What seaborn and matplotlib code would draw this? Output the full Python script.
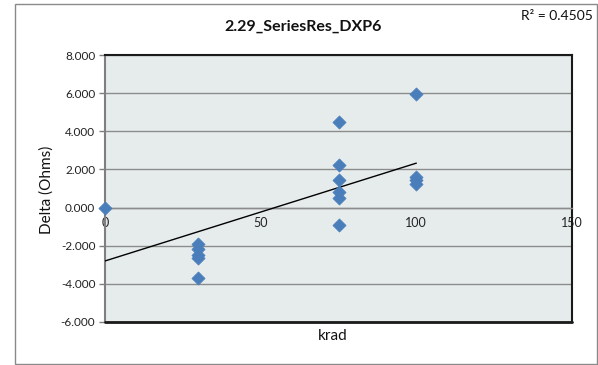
import matplotlib
matplotlib.use("Agg")
import matplotlib.pyplot as plt
import seaborn as sns
import pandas as pd
from matplotlib.patches import Rectangle
from matplotlib.ticker import FuncFormatter

# Data
krad = [0, 30, 30, 30, 30, 30, 75, 75, 75, 75, 75, 75, 100, 100, 100, 100]
delta = [0.00, -1.93, -2.18, -2.49, -2.65, -3.67,
         4.47, 2.21, 1.43, 0.82, 0.48, -0.92,
         5.95, 1.62, 1.45, 1.26]
trend_x = [0, 100]
trend_y = [-2.80, 2.33]
y_ticks = [-6, -4, -2, 0, 2, 4, 6, 8]
x_ticks = [0, 50, 100, 150]
title = "2.29_SeriesRes_DXP6"
r2_text = "R² = 0.4505"

sns.set_theme(style="white")
plt.rcParams["font.family"] = ["Lato", "DejaVu Sans"]
plt.rcParams["axes.unicode_minus"] = False

W, H = 598, 365
fig = plt.figure(figsize=(W / 100, H / 100), dpi=100)
ax = fig.add_axes([105 / W, 1 - 322 / H, (572 - 105) / W, (322 - 55) / H])

# outer chart border
fig.patches.append(Rectangle((15 / W, 1 - 364 / H), (597 - 15) / W, (364 - 4) / H,
                             transform=fig.transFigure, fill=False,
                             edgecolor="#8a8a8a", linewidth=1.0))

ax.set_facecolor("#E6ECEC")
ax.set_xlim(0, 150)
ax.set_ylim(-6, 8)
ax.set_yticks(y_ticks)
ax.set_xticks(x_ticks)
ax.yaxis.set_major_formatter(FuncFormatter(lambda v, p: f"{v:.3f}"))
ax.grid(axis="y", color="#8c8c8c", linewidth=1.0)
ax.grid(axis="x", visible=False)
ax.set_axisbelow(True)

for s in ["top", "right"]:
    ax.spines[s].set_color("#1a1a1a")
    ax.spines[s].set_linewidth(1.5)
ax.spines["left"].set_color("#7f7f7f")
ax.spines["left"].set_linewidth(1.5)
ax.spines["bottom"].set_position(("data", 0))
ax.spines["bottom"].set_color("#8c8c8c")
ax.spines["bottom"].set_linewidth(1.0)
# bottom border of plot area
ax.axhline(-6, color="#1a1a1a", linewidth=2.0, clip_on=False, zorder=5)

ax.tick_params(axis="y", which="both", length=4, width=1, color="#7f7f7f",
               labelsize=8.5, labelcolor="#222222", pad=3, left=True)
ax.tick_params(axis="x", which="both", length=0, labelsize=9,
               labelcolor="#222222", pad=7, bottom=True)

df = pd.DataFrame({"krad": krad, "delta": delta})
sns.scatterplot(data=df, x="krad", y="delta", marker="D", s=45,
                color="#4A7EBB", edgecolor="#4A7EBB", linewidth=0.5,
                ax=ax, zorder=4, clip_on=False)
tf = pd.DataFrame({"x": trend_x, "y": trend_y})
sns.lineplot(data=tf, x="x", y="y", color="black", linewidth=1.0, ax=ax, zorder=3)

ax.set_xlabel("")
ax.set_ylabel("")
fig.text(333 / W, 1 - 336 / H, "krad", ha="center", va="center", fontsize=11,
         color="#111111")
fig.text(47 / W, 1 - 190 / H, "Delta (Ohms)", ha="center", va="center",
         rotation=90, fontsize=11, color="#111111")
fig.text(303 / W, 1 - 27 / H, title, ha="center", va="center", fontsize=11.5,
         fontweight="bold", color="#111111")
fig.text(521 / W, 1 - 16 / H, r2_text, ha="left", va="center", fontsize=10,
         color="#111111")

fig.savefig("out.png", dpi=100)
